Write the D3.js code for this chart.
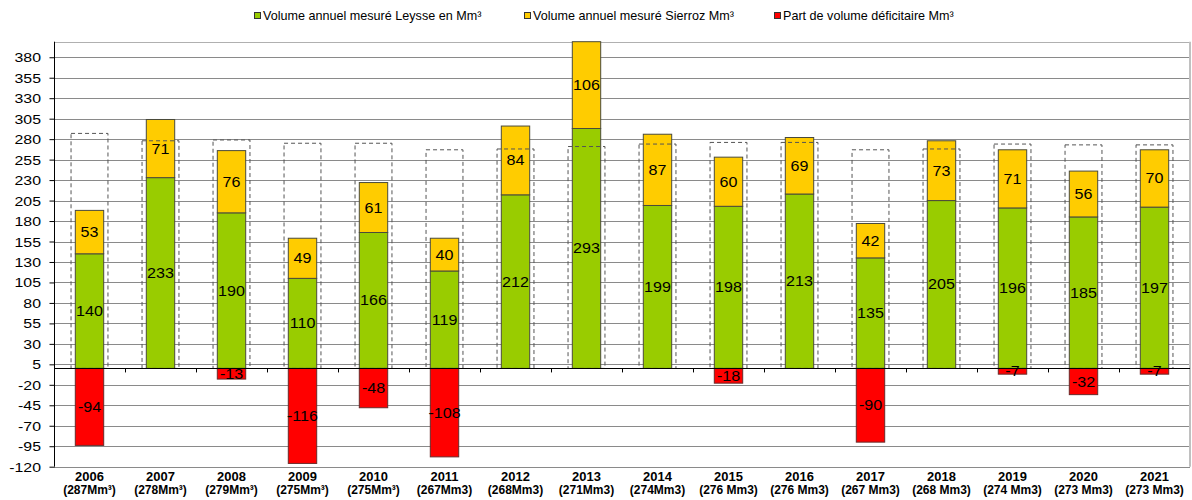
<!DOCTYPE html>
<html>
<head>
<meta charset="utf-8">
<script src="https://cdn.jsdelivr.net/npm/d3@7"></script>
<style>
  body { margin: 0; background: #fff; }
  svg { display: block; font-family: "Liberation Sans", Arial, sans-serif; }
</style>
</head>
<body>
<svg id="chart" width="1192" height="500"></svg>
<script>
// data
const years = ['2006', '2007', '2008', '2009', '2010', '2011', '2012', '2013',
  '2014', '2015', '2016', '2017', '2018', '2019', '2020', '2021'];
const refLabels = ['(287Mm³)', '(278Mm³)', '(279Mm³)', '(275Mm³)', '(275Mm³)', '(267Mm3)',
  '(268Mm3)', '(271Mm3)', '(274Mm3)', '(276 Mm3)', '(276 Mm3)', '(267 Mm3)',
  '(268 Mm3)', '(274 Mm3)', '(273 Mm3)', '(273 Mm3)'];
const refVolume = [287, 278, 279, 275, 275, 267, 268, 271, 274, 276, 276, 267, 268, 274, 273, 273];
const leysse = [140, 233, 190, 110, 166, 119, 212, 293, 199, 198, 213, 135, 205, 196, 185, 197];
const sierroz = [53, 71, 76, 49, 61, 40, 84, 106, 87, 60, 69, 42, 73, 71, 56, 70];
const deficit = [-94, 0, -13, -116, -48, -108, 0, 0, 0, -18, 0, -90, 0, -7, -32, -7];
const yTicks = d3.range(-120, 381, 25);
const legendNames = ['Volume annuel mesuré Leysse en Mm³', 'Volume annuel mesuré Sierroz Mm³',
  'Part de volume déficitaire Mm³'];

const colors = ['#99CC00', '#FFCC00', '#FF0000'];
const svg = d3.select('#chart');
const plotLeft = 54, plotRight = 1190, plotTop = 41.7, plotBottom = 466.7;

const x = d3.scaleBand().domain(years).range([plotLeft, plotRight]);
const y = d3.scaleLinear().domain([-120, 399]).range([plotBottom, plotTop]);
const bw = x.bandwidth();
const barW = bw * 0.4;
const boxW = bw * 0.52;

// stretched text helper (original text is a bit wide)
function stretchText(g, tx, ty, str, size, sx, anchor, weight) {
  return g.append('text')
    .attr('transform', `translate(${tx},${ty}) scale(${sx},1)`)
    .attr('text-anchor', anchor)
    .attr('font-size', size)
    .attr('font-weight', weight || 'normal')
    .attr('fill', '#000')
    .text(str);
}

// gridlines
svg.append('g')
  .selectAll('line')
  .data(yTicks)
  .enter()
  .append('line')
  .attr('x1', plotLeft).attr('x2', plotRight)
  .attr('y1', d => Math.round(y(d)) + 0.5).attr('y2', d => Math.round(y(d)) + 0.5)
  .attr('stroke', '#8a8a8a');

// plot border top / right
svg.append('line').attr('x1', plotLeft).attr('x2', plotRight)
  .attr('y1', Math.round(plotTop) + 0.5).attr('y2', Math.round(plotTop) + 0.5).attr('stroke', '#b0b0b0');
svg.append('line').attr('x1', plotRight).attr('x2', plotRight)
  .attr('y1', plotTop).attr('y2', plotBottom).attr('stroke', '#c0c0c0').attr('stroke-width', 2);

// stacked bars
const bars = svg.append('g');
years.forEach((yr, i) => {
  const cx = x(yr) + bw / 2;
  bars.append('rect')
    .attr('x', cx - barW / 2).attr('width', barW)
    .attr('y', y(leysse[i])).attr('height', y(0) - y(leysse[i]))
    .attr('fill', colors[0]).attr('stroke', '#4a4a3a').attr('stroke-width', 1);
  bars.append('rect')
    .attr('x', cx - barW / 2).attr('width', barW)
    .attr('y', y(leysse[i] + sierroz[i])).attr('height', y(leysse[i]) - y(leysse[i] + sierroz[i]))
    .attr('fill', colors[1]).attr('stroke', '#4a4a3a').attr('stroke-width', 1);
  if (deficit[i] < 0) {
    bars.append('rect')
      .attr('x', cx - barW / 2).attr('width', barW)
      .attr('y', y(0)).attr('height', y(deficit[i]) - y(0))
      .attr('fill', colors[2]).attr('stroke', '#6a2a2a').attr('stroke-width', 1);
  }
});

// reference volume boxes (dashed, on top)
svg.append('g')
  .selectAll('rect')
  .data(years)
  .enter()
  .append('rect')
  .attr('x', d => x(d) + bw / 2 - boxW / 2)
  .attr('width', boxW)
  .attr('y', (d, i) => y(refVolume[i]))
  .attr('height', (d, i) => y(0) - y(refVolume[i]))
  .attr('fill', 'none')
  .attr('stroke', '#555')
  .attr('stroke-dasharray', '4,3');

// zero line + category ticks
svg.append('line').attr('x1', plotLeft).attr('x2', plotRight)
  .attr('y1', Math.round(y(0)) + 0.5).attr('y2', Math.round(y(0)) + 0.5).attr('stroke', '#000');
svg.append('g')
  .selectAll('line')
  .data(years.slice(1))
  .enter()
  .append('line')
  .attr('x1', d => Math.round(x(d)) + 0.5).attr('x2', d => Math.round(x(d)) + 0.5)
  .attr('y1', y(0)).attr('y2', y(0) + 4)
  .attr('stroke', '#000');

// left axis
const yAxis = svg.append('g')
  .attr('transform', `translate(${plotLeft + 0.5},0)`)
  .call(d3.axisLeft(y).tickValues(yTicks).tickSize(5).tickFormat(''));
yAxis.select('.domain').attr('d', `M0,${plotTop}V${plotBottom}`).attr('stroke', '#000');
yAxis.selectAll('.tick line').attr('stroke', '#000');

const yLabels = svg.append('g');
yTicks.forEach(t => stretchText(yLabels, 41, y(t) + 5, t, 13, 1.22, 'end'));

// data labels
const labels = svg.append('g');
years.forEach((yr, i) => {
  const cx = x(yr) + bw / 2;
  stretchText(labels, cx, y(leysse[i] / 2) + 5, leysse[i], 14, 1.15, 'middle');
  stretchText(labels, cx, y(leysse[i] + sierroz[i] / 2) + 5, sierroz[i], 14, 1.15, 'middle');
  if (deficit[i] < 0) {
    stretchText(labels, cx, y(deficit[i] / 2) + 5, deficit[i], 14, 1.15, 'middle');
  }
});

// category labels
const xLabels = svg.append('g');
years.forEach((yr, i) => {
  const cx = x(yr) + bw / 2;
  stretchText(xLabels, cx, 481, yr, 12, 1.08, 'middle', 'bold');
  stretchText(xLabels, cx, 494, refLabels[i], 12, 1.0, 'middle', 'bold');
});

// legend
const legendX = [254, 524, 774];
const legend = svg.append('g');
legendNames.forEach((name, i) => {
  legend.append('rect')
    .attr('x', legendX[i] + 0.5).attr('y', 12.5)
    .attr('width', 6).attr('height', 6)
    .attr('fill', colors[i]).attr('stroke', '#333');
  stretchText(legend, legendX[i] + 9, 20, name, 12, 1.05, 'start');
});
</script>
</body>
</html>
